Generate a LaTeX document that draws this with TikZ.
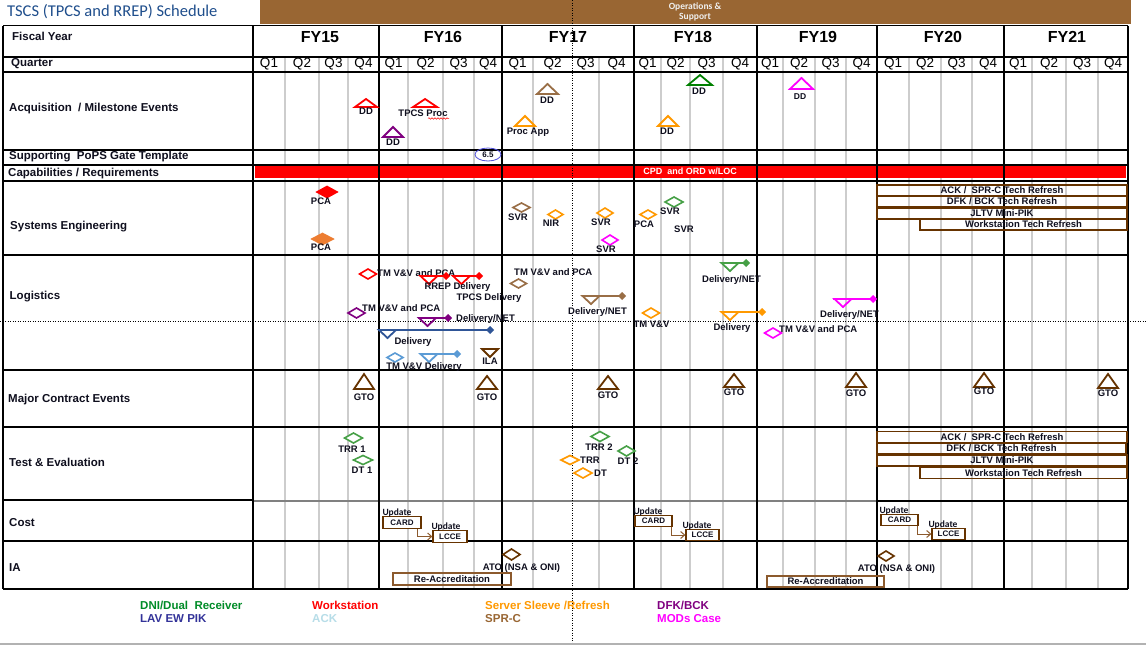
\documentclass[tikz,border=0pt]{standalone}
\usepackage{fontspec}
\setmainfont{Liberation Sans}
\newfontfamily\calfont{Carlito}
\usetikzlibrary{shapes.geometric,decorations.pathmorphing,arrows.meta}
\definecolor{band}{RGB}{153,102,51}
\definecolor{titleblue}{RGB}{31,78,140}
\definecolor{qgray}{RGB}{205,205,205}
\definecolor{cred}{RGB}{255,0,0}
\definecolor{cpurple}{RGB}{128,0,128}
\definecolor{corange}{RGB}{255,153,0}
\definecolor{cbrown}{RGB}{153,110,70}
\definecolor{dbrown}{RGB}{102,51,0}
\definecolor{mbrown}{RGB}{140,90,45}
\definecolor{cgreen}{RGB}{0,128,0}
\definecolor{lgreen}{RGB}{70,160,70}
\definecolor{cmag}{RGB}{255,0,255}
\definecolor{dblue}{RGB}{47,85,151}
\definecolor{lblue}{RGB}{91,155,213}
\definecolor{pcaorange}{RGB}{237,125,49}
\definecolor{ellblue}{RGB}{80,80,220}
\definecolor{labelc}{RGB}{15,15,30}
\definecolor{lgDNI}{RGB}{0,140,40}
\definecolor{lgLAV}{RGB}{51,51,153}
\definecolor{lgACK}{RGB}{183,221,232}
\definecolor{lgSPR}{RGB}{153,102,51}
\newcommand\fsz[1]{\fontsize{#1}{#1}\selectfont}
\newcommand\utri[5]{\draw[#5,line width=1.8pt,line join=miter] ({#1-#2/2},{#4}) -- ({#1},{#3}) -- ({#1+#2/2},{#4}) -- cycle;}
\newcommand\dmd[6]{\draw[#5,line width=1.6pt,fill=#6] ({#1-#3/2},{#2}) -- ({#1},{#2-#4/2}) -- ({#1+#3/2},{#2}) -- ({#1},{#2+#4/2}) -- cycle;}
\newcommand\deliv[5]{%
 \draw[#5,line width=1.8pt] ({#1},{#3}) -- ({#2},{#3});
 \fill[#5] ({#2-4},{#3}) -- ({#2},{#3-4}) -- ({#2+4},{#3}) -- ({#2},{#3+4}) -- cycle;
 \draw[#5,line width=1.8pt,line join=miter] ({#4-8.5},{#3}) -- ({#4},{#3+8}) -- ({#4+8.5},{#3}) -- cycle;}
\tikzset{
 lbl/.style={font=\fsz{9.5}\bfseries, inner sep=0pt, text height=6.8pt, text depth=0pt, text=labelc},
 rowlbl/.style={font=\fsz{11.5}\bfseries, anchor=west, inner sep=0pt, text height=8.2pt, text depth=0pt, text=labelc},
 fylbl/.style={font=\fsz{16}\bfseries, inner sep=0pt, text height=11.5pt, text depth=0pt},
 qlbl/.style={font=\fsz{13.5}, inner sep=0pt, text height=9.7pt, text depth=0pt},
 leg/.style={font=\fsz{11.5}\bfseries, anchor=west, inner sep=0pt, text height=8.2pt, text depth=0pt},
 rbox/.style={draw=dbrown, line width=1.3pt, minimum height=11pt, inner sep=0pt, font=\fsz{9.5}\bfseries, text height=6.8pt, text depth=0pt, text=labelc},
 cbox/.style={draw=dbrown, line width=1.3pt, fill=white, minimum height=11.5pt, inner sep=0pt, font=\fsz{8}\bfseries, text height=5.7pt, text depth=0pt, text=labelc},
 upd/.style={font=\calfont\fsz{9.5}\bfseries, inner sep=0pt, text height=6pt, text depth=0pt, text=labelc},
 dotl/.style={black, line width=1pt, dash pattern=on 1pt off 1.5pt},
 tline/.style={black, line width=1.1pt},
 thick line/.style={black, line width=2.4pt},
 qline/.style={qgray, line width=1.5pt},
 redbar/.style={fill=cred},
 flow/.style={mbrown, line width=1pt, -{Straight Barb[length=4pt,width=7pt]}},
}
\begin{document}
\begin{tikzpicture}[x=1pt,y=-1pt]
\useasboundingbox (0,0) rectangle (1146,645);
\fill[white] (0,0) rectangle (1146,645);
% top band
\fill[band] (260,0) rectangle (1131,24);
\node[font=\calfont\fsz{9.5}\bfseries, text=white!94!black, inner sep=0pt] (ops1) at (695,6.5) {Operations \&};
\node[font=\calfont\fsz{9.5}\bfseries, text=white!94!black, inner sep=0pt] (ops2) at (695,17) {Support};
% title
\node[anchor=west, font=\calfont\fsz{16.5}, text=titleblue, inner sep=0pt, text height=10.6pt, text depth=0pt] (title) at (7,11.5) {TSCS (TPCS and RREP) Schedule};
% quarter lines
\foreach \x in {285,319,348,408,443,474,533,599,661,690,723,783,815,846,909,941,972,1032,1066,1098}
  \draw[qline] (\x,57) -- (\x,589);
% red bar
\fill[redbar] (255,165.5) rectangle (1126,178);
\node[font=\fsz{9}\bfseries, text=white, inner sep=0pt, text height=6.4pt, text depth=0pt] (cpd) at (690,171.5) {CPD\ \ and ORD w/LOC};
% horizontal rules
\draw[tline] (3,25.5) -- (1128,25.5);
\foreach \y in {57,72,150,165,181,255,370,427,541,589}
  \draw[tline] (3,\y) -- (1128,\y);
\draw[tline] (3,500) -- (253,500);
\draw[gray, line width=2pt] (253,500.5) -- (877,500.5);
\draw[tline] (877,501) -- (1128,501);
% vertical rules
\foreach \x in {3,253,502,634,757,1004,1128}
  \draw[tline] (\x,25.5) -- (\x,589);
\foreach \x in {379,877}
  \draw[thick line] (\x,25.5) -- (\x,590);
% dotted guides
\draw[dotl] (572,0) -- (572,645);
\draw[dotl] (0,321) -- (1146,321);
\draw[black!30, line width=1.5pt] (0,644) -- (1146,644);
% header text
\node[rowlbl] (hfy) at (12,36.5) {Fiscal Year};
\node[rowlbl] (hq) at (11,62) {Quarter};
\node[fylbl] (fy15) at (320,36.5) {FY15};
\node[fylbl] (fy16) at (443,36.5) {FY16};
\node[fylbl] (fy17) at (568,36.5) {FY17};
\node[fylbl] (fy18) at (693,36.5) {FY18};
\node[fylbl] (fy19) at (818,36.5) {FY19};
\node[fylbl] (fy20) at (943,36.5) {FY20};
\node[fylbl] (fy21) at (1067,36.5) {FY21};
\foreach \a/\b/\c/\d [count=\i] in {269/302/333.5/363.5, 393.5/425.5/458.5/488, 517.5/552.5/585.5/616.5, 647.5/675.5/706.5/740, 770/799/830.5/861.5, 893/925/956.5/988, 1018/1049/1082/1113}{
  \node[qlbl] (q\i a) at (\a,63) {Q1};
  \node[qlbl] (q\i b) at (\b,63) {Q2};
  \node[qlbl] (q\i c) at (\c,63) {Q3};
  \node[qlbl] (q\i d) at (\d,63) {Q4};
}
% row labels
\node[rowlbl] (r1) at (9,107.5) {Acquisition\ \ /\ Milestone Events};
\node[rowlbl] (r2) at (9,155.5) {Supporting\ \ PoPS Gate Template};
\node[rowlbl] (r3) at (8,172) {Capabilities / Requirements};
\node[rowlbl] (r4) at (10,225.5) {Systems Engineering};
\node[rowlbl] (r5) at (9.5,295.5) {Logistics};
\node[rowlbl] (r6) at (8,398) {Major Contract Events};
\node[rowlbl] (r7) at (9,462) {Test \& Evaluation};
\node[rowlbl] (r8) at (9,522.5) {Cost};
\node[rowlbl] (r9) at (9,567.5) {IA};
% ---------- Acquisition / Milestone Events
\utri{366}{22}{99}{107}{cred}
\node[lbl] (a1) at (366,111.5) {DD};
\utri{393}{20}{127}{137}{cpurple}
\node[lbl] (a2) at (393,142.5) {DD};
\utri{425}{24}{99}{107}{cred}
\node[lbl] (a3) at (423,113) {TPCS Proc};
\draw[cred, line width=0.5pt, decorate, decoration={snake, amplitude=0.8pt, segment length=3pt}] (428,118.5) -- (449,118.5);
\utri{525}{20}{116}{126}{corange}
\node[lbl] (a4) at (528,131) {Proc App};
\utri{547.5}{21}{84}{94}{cbrown}
\node[lbl] (a5) at (547,100.5) {DD};
\utri{668}{20}{116}{126}{corange}
\node[lbl] (a6) at (667,131.5) {DD};
\utri{700}{24}{75}{85}{cgreen}
\node[lbl] (a7) at (699,91.5) {DD};
\utri{801.5}{23}{78}{89}{cmag}
\node[lbl,font=\fsz{8.5}\bfseries,text height=6.1pt] (a8) at (800,96) {DD};
% PoPS gate
\node[draw=ellblue, ellipse, line width=0.8pt, minimum width=26pt, minimum height=13pt, inner sep=0pt, font=\fsz{8}\bfseries, text=labelc] (pops) at (488,154.5) {6.5};
% ---------- Systems Engineering
\dmd{327}{192}{20}{11}{cred}{cred}
\node[lbl] (s1) at (321,201.5) {PCA};
\dmd{322.5}{239}{21}{11}{pcaorange}{pcaorange}
\node[lbl] (s2) at (321,247.5) {PCA};
\dmd{521.5}{207.5}{17}{9}{cbrown}{white}
\node[lbl] (s3) at (518,217) {SVR};
\dmd{555.5}{214.5}{15}{9}{corange}{white}
\node[lbl] (s4) at (551,223) {NIR};
\dmd{605}{213}{16}{10}{corange}{white}
\node[lbl] (s5) at (601,222) {SVR};
\dmd{610}{240}{16}{10}{cmag}{white}
\node[lbl] (s6) at (606,249) {SVR};
\dmd{648}{214.5}{16}{9}{corange}{white}
\node[lbl] (s7) at (644,224) {PCA};
\dmd{674}{202}{18}{10}{lgreen}{white}
\node[lbl] (s8) at (670,211) {SVR};
\node[lbl] (s9) at (684,229) {SVR};
\node[rbox, minimum width=250pt] (se1) at (1002,190.5) {ACK /\ \ SPR-C Tech Refresh};
\node[rbox, minimum width=250pt] (se2) at (1002,201.5) {DFK / BCK Tech Refresh};
\node[rbox, minimum width=250pt, line width=1.8pt] (se3) at (1002,213.5) {JLTV Mini-PIK};
\node[rbox, minimum width=207pt] (se4) at (1023.5,224.5) {Workstation Tech Refresh};
% ---------- Logistics
\dmd{368}{274}{17}{10}{cred}{white}
\node[lbl, anchor=west] (g1) at (377,273) {TM V\&V and PCA};
\deliv{420}{446}{276}{429}{cred}
\deliv{453}{479}{276}{461.5}{cred}
\node[lbl] (g2) at (457.5,286.5) {RREP Delivery};
\node[lbl] (g3) at (489,297.5) {TPCS Delivery};
\dmd{356.5}{313}{17}{10}{cpurple}{white}
\node[lbl, anchor=west] (g4) at (362,308.5) {TM V\&V and PCA};
\deliv{418}{448}{318}{427.5}{cpurple}
\node[lbl, anchor=west] (g5) at (456,318.5) {Delivery/NET};
\node[lbl, anchor=west] (g6) at (514,272) {TM V\&V and PCA};
\dmd{518.5}{283.5}{16}{9}{cbrown}{white}
\deliv{582}{622}{296}{591}{cbrown}
\node[lbl, fill=white, inner xsep=1pt] (g7) at (597.5,311.5) {Delivery/NET};
\deliv{722}{746}{263}{730}{lgreen}
\node[lbl] (g8) at (731.5,279) {Delivery/NET};
\dmd{651}{313}{17}{10}{corange}{white}
\node[lbl] (g9) at (651.5,324) {TM V\&V};
\deliv{722}{762}{312}{730}{corange}
\node[lbl] (g10) at (732,327) {Delivery};
\deliv{833}{873}{299}{843}{cmag}
\node[lbl] (g11) at (849.5,314.5) {Delivery/NET};
\dmd{773}{333}{17}{10}{cmag}{white}
\node[lbl, anchor=west] (g12) at (779,329.5) {TM V\&V and PCA};
\deliv{380}{490}{330}{387.5}{dblue}
\node[lbl] (g13) at (413,341) {Delivery};
\dmd{395}{357.5}{16}{9}{lblue}{white}
\deliv{422}{457}{354}{429}{lblue}
\node[lbl] (g14) at (424,366.5) {TM V\&V Delivery};
\utri{490}{16}{357}{349}{dbrown}
\node[lbl] (g15) at (490,361.5) {ILA};
% ---------- Major Contract Events
\foreach \x/\ap/\bs/\ly [count=\i] in {364/374/389/397.5, 487/376/389/397.5, 608/376/389/395.5, 734/374/387/392, 856/373/387/393.5, 984/373/387/391.5, 1108/374/388/393}{
  \utri{\x}{20}{\ap}{\bs}{dbrown}
  \node[lbl] (gto\i) at (\x,\ly) {GTO};
}
% ---------- Test & Evaluation
\dmd{353.5}{438}{18}{10}{lgreen}{white}
\node[lbl] (t1) at (352,449) {TRR 1};
\dmd{363}{460}{19}{9}{lgreen}{white}
\node[lbl] (t2) at (362,470) {DT 1};
\dmd{600}{436.5}{18}{10}{lgreen}{white}
\node[lbl] (t3) at (599,447) {TRR 2};
\dmd{626.5}{451}{17}{10}{lgreen}{white}
\node[lbl] (t4) at (628,461) {DT 2};
\dmd{570}{460}{18}{9}{corange}{white}
\node[lbl, anchor=west] (t5) at (580,460) {TRR};
\dmd{583}{473}{18}{10}{corange}{white}
\node[lbl, anchor=west] (t6) at (594,473) {DT};
\node[rbox, minimum width=250pt] (te1) at (1002,437) {ACK /\ \ SPR-C Tech Refresh};
\node[rbox, minimum width=249pt] (te2) at (1001.5,448.5) {DFK / BCK Tech Refresh};
\node[rbox, minimum width=250pt] (te3) at (1002,460.5) {JLTV Mini-PIK};
\node[rbox, minimum width=207pt] (te4) at (1023.5,473) {Workstation Tech Refresh};
% ---------- Cost
\node[cbox, minimum width=38pt] (card1) at (402,522.5) {CARD};
\node[cbox, minimum width=34pt] (lcce1) at (450,536.5) {LCCE};
\node[upd] (u1) at (397,512) {Update};
\node[upd] (u2) at (446,526) {Update};
\draw[flow] ([xshift=-4pt]card1.south east) |- (lcce1.west);
\node[cbox, minimum width=37pt] (card2) at (653.5,521) {CARD};
\node[cbox, minimum width=33pt] (lcce2) at (702.5,535) {LCCE};
\node[upd] (u3) at (648,511) {Update};
\node[upd] (u4) at (697,525) {Update};
\draw[flow] ([xshift=-1pt]card2.south east) |- (lcce2.west);
\node[cbox, minimum width=37pt] (card3) at (899.5,520) {CARD};
\node[cbox, minimum width=33pt] (lcce3) at (948.5,534) {LCCE};
\node[upd] (u5) at (894,510) {Update};
\node[upd] (u6) at (943,524) {Update};
\draw[flow] ([xshift=-1pt]card3.south east) |- (lcce3.west);
% ---------- IA
\dmd{511.5}{554.5}{17}{11}{dbrown}{white}
\node[lbl] (ia1) at (521.5,567) {ATO (NSA \& ONI)};
\node[rbox, draw=mbrown, minimum width=118pt, minimum height=12pt] (ia2) at (452,579) {Re-Accreditation};
\dmd{886}{556}{16}{10}{dbrown}{white}
\node[lbl] (ia3) at (896.5,568) {ATO (NSA \& ONI)};
\node[rbox, draw=mbrown, minimum width=117pt] (ia4) at (825.5,581.5) {Re-Accreditation};
% ---------- legend
\node[leg, text=lgDNI] (l1) at (140,605) {DNI/Dual\ \ Receiver};
\node[leg, text=lgLAV] (l2) at (140,618.5) {LAV EW PIK};
\node[leg, text=cred] (l3) at (312,605) {Workstation};
\node[leg, text=lgACK] (l4) at (312,618.5) {ACK};
\node[leg, text=corange] (l5) at (485,605) {Server Sleeve /Refresh};
\node[leg, text=lgSPR] (l6) at (485,618.5) {SPR-C};
\node[leg, text=cpurple] (l7) at (657,605) {DFK/BCK};
\node[leg, text=cmag] (l8) at (657,618.5) {MODs Case};
\end{tikzpicture}
\end{document}
